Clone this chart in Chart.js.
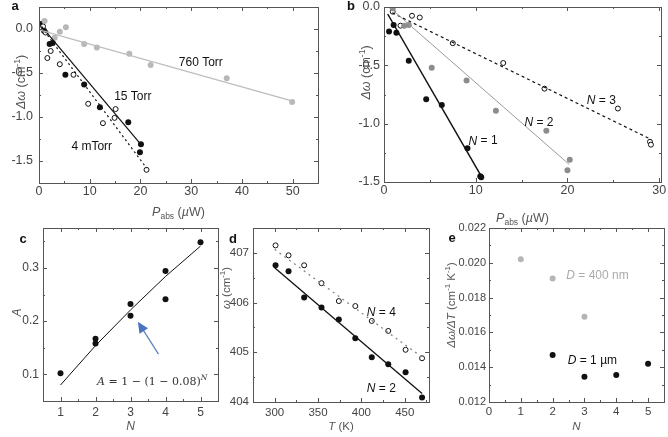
<!DOCTYPE html>
<html>
<head>
<meta charset="utf-8">
<script src="https://cdn.jsdelivr.net/npm/chart.js@4.4.1/dist/chart.umd.min.js"></script>
<style>
  body { margin: 0; background: #fff; }
  #wrap { position: relative; width: 668px; height: 437px; overflow: hidden; }
  canvas { position: absolute; left: 0; top: 0; }
</style>
</head>
<body>
<div id="wrap">
  <canvas id="pa" width="668" height="437"></canvas>
  <canvas id="pb" width="668" height="437"></canvas>
  <canvas id="pc" width="668" height="437"></canvas>
  <canvas id="pd" width="668" height="437"></canvas>
  <canvas id="pe" width="668" height="437"></canvas>
</div>
<script>
// ── Panel a: shift vs absorbed power at three pressures ─────────────────────
const a760X = [1.1, 3.1, 4.1, 5.3, 8.9, 11.4, 17.8, 22.0, 37.0, 49.9];
const a760Y = [0.09, -0.10, -0.03, 0.02, -0.17, -0.21, -0.28, -0.41, -0.56, -0.83];
const a15X  = [0.6, 1.0, 2.1, 2.7, 5.2, 8.9, 12.0, 17.6, 20.1, 19.9];
const a15Y  = [0.06, -0.02, -0.17, -0.16, -0.52, -0.63, -0.89, -1.06, -1.31, -1.40];
const a4mX  = [0.8, 1.3, 1.65, 2.3, 4.1, 6.8, 9.7, 12.6, 15.1, 14.9, 21.2];
const a4mY  = [0.03, -0.04, -0.33, -0.25, -0.40, -0.52, -0.85, -1.07, -0.91, -1.01, -1.60];
const a760FitX = [0, 50],    a760FitY = [-0.01, -0.82];
const a15FitX  = [0.5, 20.2], a15FitY  = [0.03, -1.32];
const a4mFitX  = [0.5, 21.2], a4mFitY  = [0.02, -1.58];
const aXTicks = [0, 10, 20, 30, 40, 50];
const aYTicks = [-1.5, -1.0, -0.5, 0.0];

// ── Panel b: shift vs absorbed power for N = 1, 2, 3 ────────────────────────
const b1X = [0.55, 1.05, 1.35, 2.7, 4.6, 6.3, 9.1, 10.5, 10.6];
const b1Y = [-0.21, -0.155, -0.22, -0.46, -0.79, -0.84, -1.21, -1.45, -1.46];
const b2X = [0.95, 2.2, 2.7, 5.2, 9.0, 12.2, 17.7, 20.25, 20.0];
const b2Y = [-0.01, -0.16, -0.155, -0.52, -0.63, -0.89, -1.06, -1.31, -1.40];
const b3X = [0.95, 1.8, 3.05, 3.9, 7.5, 13.0, 17.5, 25.5, 29.0, 29.1];
const b3Y = [-0.04, -0.16, -0.075, -0.09, -0.31, -0.48, -0.70, -0.87, -1.155, -1.18];
const b1FitX = [0.4, 10.6], b1FitY = [-0.06, -1.45];
const b2FitX = [1.0, 20.2], b2FitY = [-0.03, -1.35];
const b3FitX = [0.9, 29.0], b3FitY = [-0.05, -1.13];
const bXTicks = [0, 10, 20, 30];
const bYTicks = [-1.5, -1.0, -0.5, 0.0];

// ── Panel c: absorption vs layer number ─────────────────────────────────────
const cN = [1, 2, 2, 3, 3, 4, 4, 5];
const cA = [0.102, 0.167, 0.158, 0.232, 0.210, 0.294, 0.241, 0.348];
const cFitN = [1, 2, 3, 4, 5];
const cFitA = [0.080, 0.154, 0.221, 0.284, 0.341];
const cXTicks = [1, 2, 3, 4, 5];
const cYTicks = [0.1, 0.2, 0.3];

// ── Panel d: peak position vs temperature ───────────────────────────────────
const dT  = [301, 316, 334, 354, 374, 393, 412, 431, 451, 470];
const dN2 = [406.75, 406.63, 406.10, 405.90, 405.66, 405.28, 404.90, 404.76, 404.60, 404.09];
const dN4 = [407.15, 406.95, 406.75, 406.39, 406.03, 405.93, 405.63, 405.43, 405.05, 404.88];
const dFitT = [300, 470];
const dFitN2 = [406.70, 404.17];
const dFitN4 = [407.07, 404.90];
const dXTicks = [300, 350, 400, 450];
const dYTicks = [404, 405, 406, 407];

// ── Panel e: temperature coefficient vs layer number ───────────────────────
const e400N = [1, 2, 3];
const e400  = [0.0202, 0.0191, 0.0169];
const e1N   = [2, 3, 4, 5];
const e1    = [0.0147, 0.01345, 0.01355, 0.0142];
const eXTicks = [0, 1, 2, 3, 4, 5];
const eYTicks = [0.012, 0.014, 0.016, 0.018, 0.020, 0.022];

const FONT = '"Liberation Sans", Arial, sans-serif';
const SERIF = '"DejaVu Serif", "Liberation Serif", serif';
const pts = (xs, ys) => xs.map((x, i) => ({ x, y: ys[i] }));

// rich text: parts = [[text, flags]], flags: i italic, b subscript, p superscript
function drawRich(ctx, parts, x, y, size, color, rotate, family) {
  family = family || FONT;
  ctx.save();
  ctx.translate(x, y);
  if (rotate) ctx.rotate(-Math.PI / 2);
  const fontOf = f => (f.includes('i') ? 'italic ' : '') + ((f.includes('b') || f.includes('p')) ? size * 0.68 : size) + 'px ' + family;
  let w = 0;
  parts.forEach(([t, f = '']) => { ctx.font = fontOf(f); w += ctx.measureText(t).width; });
  let cx = -w / 2;
  ctx.fillStyle = color;
  ctx.textBaseline = 'middle';
  ctx.textAlign = 'left';
  parts.forEach(([t, f = '']) => {
    ctx.font = fontOf(f);
    const dy = f.includes('b') ? size * 0.32 : f.includes('p') ? -size * 0.38 : 0;
    ctx.fillText(t, cx, dy);
    cx += ctx.measureText(t).width;
  });
  ctx.restore();
}

// frame with inward major/minor ticks on all four sides
function framePlugin(xMinor, yMinor) {
  return {
    id: 'frame',
    afterDraw(chart) {
      const { ctx, chartArea: ca, scales: { x, y } } = chart;
      ctx.save();
      ctx.strokeStyle = '#555';
      ctx.lineWidth = 1;
      ctx.strokeRect(Math.round(ca.left) + 0.5, Math.round(ca.top) + 0.5,
                     Math.round(ca.right - ca.left), Math.round(ca.bottom - ca.top));
      const mk = (scale, step) => {
        const out = [];
        for (let v = Math.ceil(scale.min / step - 1e-9) * step; v <= scale.max + 1e-9; v += step) out.push(v);
        return out;
      };
      const majX = x.ticks.map(t => t.value), majY = y.ticks.map(t => t.value);
      const isMaj = (arr, v) => arr.some(m => Math.abs(m - v) < 1e-9);
      ctx.beginPath();
      mk(x, xMinor).forEach(v => {
        const len = isMaj(majX, v) ? 4 : 2;
        const px = Math.round(x.getPixelForValue(v)) + 0.5;
        ctx.moveTo(px, ca.bottom); ctx.lineTo(px, ca.bottom - len);
        ctx.moveTo(px, ca.top); ctx.lineTo(px, ca.top + len);
      });
      mk(y, yMinor).forEach(v => {
        const len = isMaj(majY, v) ? 4 : 2;
        const py = Math.round(y.getPixelForValue(v)) + 0.5;
        ctx.moveTo(ca.left, py); ctx.lineTo(ca.left + len, py);
        ctx.moveTo(ca.right, py); ctx.lineTo(ca.right - len, py);
      });
      ctx.stroke();
      ctx.restore();
    }
  };
}

// texts: titles relative to the chart area, notes in data units
function textPlugin(cfg) {
  return {
    id: 'texts',
    afterDraw(chart) {
      const { ctx, chartArea: ca, scales: { x, y } } = chart;
      const midX = (ca.left + ca.right) / 2, midY = (ca.top + ca.bottom) / 2;
      const ts = cfg.titleSize || 12.5;
      drawRich(ctx, cfg.xTitle, midX + (cfg.xTitleDx || 0), ca.bottom + cfg.xTitleDy, ts, '#555', false);
      drawRich(ctx, cfg.yTitle, ca.left - cfg.yTitleDx, midY + cfg.yTitleDy, ts, '#555', true);
      ctx.save();
      ctx.font = 'bold 13px ' + FONT;
      ctx.fillStyle = '#111';
      ctx.textBaseline = 'middle';
      ctx.textAlign = 'center';
      ctx.fillText(cfg.letter, ca.left + cfg.letterAt[0], ca.top + cfg.letterAt[1]);
      ctx.restore();
      (cfg.notes || []).forEach(n => {
        drawRich(ctx, n.parts, x.getPixelForValue(n.x), y.getPixelForValue(n.y), n.size || 12, n.color || '#111', false, n.family);
      });
      if (cfg.extra) cfg.extra(chart);
    }
  };
}

function axis(spec, isX, size) {
  return {
    type: 'linear', min: spec.min, max: spec.max,
    grid: { display: false, drawTicks: false },
    border: { display: false },
    ticks: {
      color: '#444', padding: spec.pad, autoSkip: false, maxRotation: 0,
      font: { family: FONT, size: spec.font || 12.5 },
      callback: v => Number(v).toFixed(spec.dec)
    },
    afterBuildTicks: s => { s.ticks = spec.ticks.map(v => ({ value: v })); },
    afterFit: s => {
      if (isX) s.height = size; else s.width = size;
      s.paddingLeft = s.paddingRight = s.paddingTop = s.paddingBottom = 0;
    }
  };
}

function panel(id, box, xAx, yAx, datasets, minors, cfg) {
  const yW = 36, xH = 22;
  return new Chart(document.getElementById(id), {
    type: 'scatter',
    data: { datasets },
    options: {
      responsive: false, animation: false, events: [],
      layout: { padding: { left: box.l - yW, top: box.t, right: 668 - box.r, bottom: 437 - box.b - xH } },
      plugins: { legend: { display: false }, tooltip: { enabled: false } },
      scales: { x: axis(xAx, true, xH), y: axis(yAx, false, yW) }
    },
    plugins: [framePlugin(minors[0], minors[1]), textPlugin(cfg)]
  });
}

const line = (data, color, width, dash) => ({
  data, showLine: true, pointRadius: 0, borderColor: color, borderWidth: width,
  borderDash: dash || [], fill: false
});
const filled = (data, color, r) => ({
  data, showLine: false, pointRadius: r || 3, pointBackgroundColor: color, pointBorderColor: color, pointBorderWidth: 0
});
const open = (data, r) => ({
  data, showLine: false, pointRadius: r || 2.5, pointBackgroundColor: '#fff', pointBorderColor: '#111', pointBorderWidth: 1
});

const muW = [['P', 'i'], ['abs', 'b'], [' ('], ['\u00b5', 'i'], ['W)']];
const dwTitle = [['\u0394\u03c9', 'i'], [' (cm'], ['-1', 'p'], [')']];

// ── a ──
panel('pa', { l: 39, t: 7, r: 318, b: 183 },
  { ticks: aXTicks, min: 0, max: 55, dec: 0, pad: 1 },
  { ticks: aYTicks, min: -1.75, max: 0.25, dec: 1, pad: 6 },
  [
    line(pts(a760FitX, a760FitY), '#bdbdbd', 1.3),
    line(pts(a15FitX, a15FitY), '#111', 1.2),
    line(pts(a4mFitX, a4mFitY), '#111', 1.2, [2, 3]),
    filled(pts(a760X, a760Y), '#b8b8b8'),
    open(pts(a4mX, a4mY)),
    filled(pts(a15X, a15Y), '#111')
  ],
  [5, 0.25],
  {
    xTitle: muW, xTitleDy: 30, yTitle: dwTitle, yTitleDx: 17, yTitleDy: -13,
    letter: 'a', letterAt: [-24, -1],
    notes: [
      { x: 31.9, y: -0.38, parts: [['760 Torr']] },
      { x: 18.5, y: -0.77, parts: [['15 Torr']] },
      { x: 10.4, y: -1.34, parts: [['4 mTorr']] }
    ]
  });

// ── b ──
panel('pb', { l: 384, t: 7, r: 661, b: 182 },
  { ticks: bXTicks, min: 0, max: 30.2, dec: 0, pad: 1 },
  { ticks: bYTicks, min: -1.5, max: 0, dec: 1, pad: 4 },
  [
    line(pts(b1FitX, b1FitY), '#111', 1.5),
    line(pts(b2FitX, b2FitY), '#9a9a9a', 1),
    line(pts(b3FitX, b3FitY), '#111', 1.2, [3, 3]),
    filled(pts(b2X, b2Y), '#8c8c8c'),
    open(pts(b3X, b3Y)),
    filled(pts(b1X, b1Y), '#111')
  ],
  [5, 0.25],
  {
    xTitle: muW, xTitleDy: 37, yTitle: dwTitle, yTitleDx: 17, yTitleDy: -22,
    letter: 'b', letterAt: [-33, -1],
    notes: [
      { x: 23.7, y: -0.80, parts: [['N', 'i'], [' = 3']] },
      { x: 16.9, y: -0.99, parts: [['N', 'i'], [' = 2']] },
      { x: 10.8, y: -1.15, parts: [['N', 'i'], [' = 1']] }
    ]
  });

// ── c ──
panel('pc', { l: 43, t: 228, r: 218, b: 401 },
  { ticks: cXTicks, min: 0.5, max: 5.5, dec: 0, pad: 4, font: 12 },
  { ticks: cYTicks, min: 0.05, max: 0.375, dec: 1, pad: 4, font: 12 },
  [
    line(pts(cFitN, cFitA), '#111', 1),
    filled(pts(cN, cA), '#111')
  ],
  [0.5, 0.05],
  {
    xTitle: [['N', 'i']], xTitleDy: 26, yTitle: [['A', 'i']], yTitleDx: 25, yTitleDy: -2,
    letter: 'c', letterAt: [-20, 11], titleSize: 12,
    notes: [
      { x: 3.62, y: 0.086, size: 11, color: '#333', family: SERIF,
        parts: [['A', 'i'], [' = 1 \u2212 (1 \u2212 0.08)'], ['N', 'ip']] }
    ],
    extra(chart) {
      const { ctx, scales: { x, y } } = chart;
      const x0 = x.getPixelForValue(3.80), y0 = y.getPixelForValue(0.138);
      const x1 = x.getPixelForValue(3.21), y1 = y.getPixelForValue(0.199);
      const ang = Math.atan2(y1 - y0, x1 - x0);
      ctx.save();
      ctx.strokeStyle = '#5b7db5';
      ctx.fillStyle = '#4a74c0';
      ctx.lineWidth = 1.2;
      ctx.beginPath();
      ctx.moveTo(x0, y0);
      ctx.lineTo(x1 - 8 * Math.cos(ang), y1 - 8 * Math.sin(ang));
      ctx.stroke();
      ctx.beginPath();
      ctx.moveTo(x1, y1);
      ctx.lineTo(x1 - 11 * Math.cos(ang) + 5 * Math.sin(ang), y1 - 11 * Math.sin(ang) - 5 * Math.cos(ang));
      ctx.lineTo(x1 - 11 * Math.cos(ang) - 5 * Math.sin(ang), y1 - 11 * Math.sin(ang) + 5 * Math.cos(ang));
      ctx.closePath();
      ctx.fill();
      ctx.restore();
    }
  });

// ── d ──
panel('pd', { l: 253, t: 228, r: 429, b: 402 },
  { ticks: dXTicks, min: 275, max: 478, dec: 0, pad: 4, font: 11.5 },
  { ticks: dYTicks, min: 404, max: 407.5, dec: 0, pad: 4, font: 11.5 },
  [
    line(pts(dFitT, dFitN2), '#111', 1.3),
    line(pts(dFitT, dFitN4), '#888', 1.3, [2, 4]),
    open(pts(dT, dN4)),
    filled(pts(dT, dN2), '#111')
  ],
  [25, 0.5],
  {
    xTitle: [['T', 'i'], [' (K)']], xTitleDy: 25,
    yTitle: [['\u03c9', 'i'], [' (cm'], ['-1', 'p'], [')']], yTitleDx: 26, yTitleDy: -27,
    letter: 'd', letterAt: [-20, 11], titleSize: 11.5,
    notes: [
      { x: 423, y: 405.79, parts: [['N', 'i'], [' = 4']] },
      { x: 423, y: 404.27, parts: [['N', 'i'], [' = 2']] }
    ]
  });

// ── e ──
panel('pe', { l: 489, t: 228, r: 665, b: 402 },
  { ticks: eXTicks, min: 0, max: 5.5, dec: 0, pad: 3, font: 11.5 },
  { ticks: eYTicks, min: 0.012, max: 0.022, dec: 3, pad: 3, font: 11 },
  [
    filled(pts(e400N, e400), '#b5b5b5'),
    filled(pts(e1N, e1), '#111')
  ],
  [0.5, 0.001],
  {
    xTitle: [['N', 'i']], xTitleDy: 25,
    yTitle: [['\u0394\u03c9/\u0394T', 'i'], [' (cm'], ['-1', 'p'], [' K'], ['-1', 'p'], [')']], yTitleDx: 37, yTitleDy: -10,
    letter: 'e', letterAt: [-37, 10], titleSize: 11.5,
    notes: [
      { x: 3.41, y: 0.01924, color: '#aaa', parts: [['D', 'i'], [' = 400 nm']] },
      { x: 3.25, y: 0.0144, parts: [['D', 'i'], [' = 1 \u00b5m']] }
    ]
  });
</script>
</body>
</html>
